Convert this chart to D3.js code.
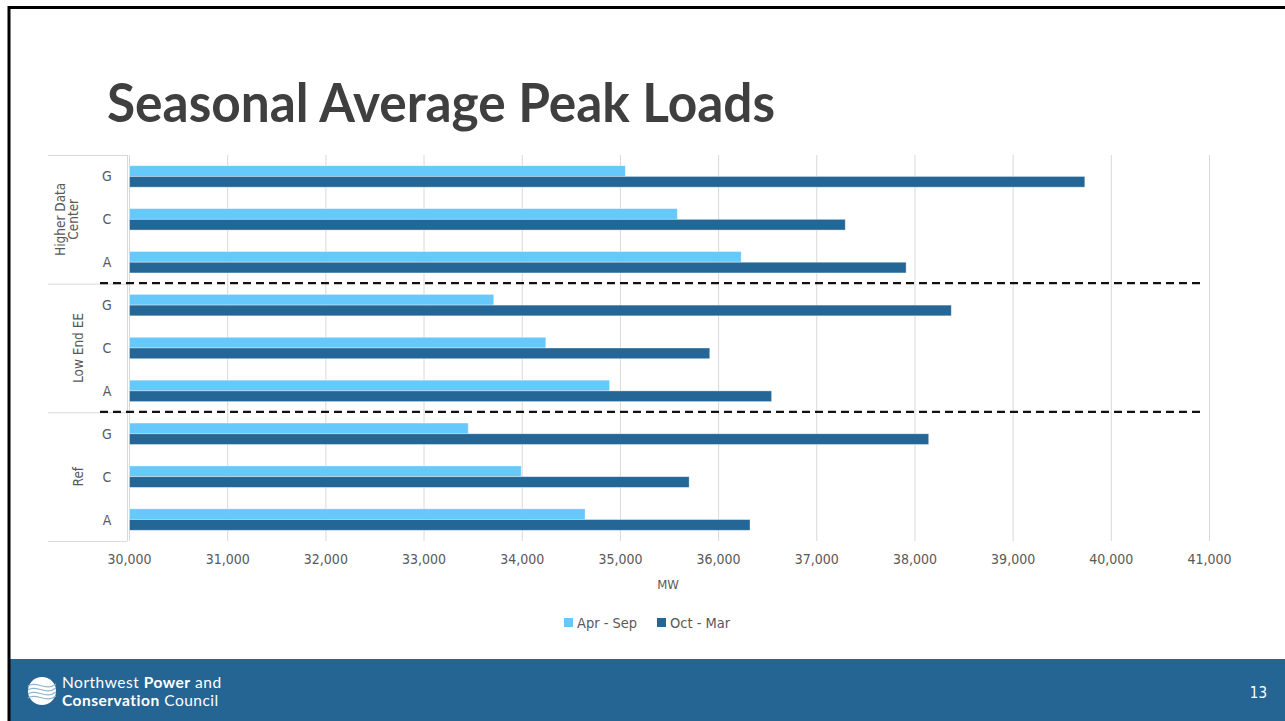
<!DOCTYPE html>
<html>
<head>
<meta charset="utf-8">
<script src="https://cdn.jsdelivr.net/npm/d3@7"></script>
<style>
  body { margin: 0; background: #fff; }
  svg { display: block; }
  .tick text { font-family: "DejaVu Sans Condensed", "DejaVu Sans", sans-serif; font-size: 14px; fill: #595959; }
</style>
</head>
<body>
<div id="chart"></div>
<script>
var groups = ["Higher Data Center", "Low End EE", "Ref"];
var cases = ["G", "C", "A"];
var seriesNames = ["Apr - Sep", "Oct - Mar"];
// one value per row, in order: group by group, G / C / A
var aprSep = [35050, 35580, 36230, 33710, 34240, 34890, 33450, 33990, 34640];
var octMar = [39730, 37290, 37910, 38370, 35910, 36540, 38140, 35700, 36320];
var xTicks = [30000, 31000, 32000, 33000, 34000, 35000, 36000, 37000, 38000, 39000, 40000, 41000];

var W = 1285, H = 721;
var colors = {"Apr - Sep": "#66c9fb", "Oct - Mar": "#246797"};
var textColor = "#595959";
var labelFont = "'DejaVu Sans Condensed', 'DejaVu Sans', sans-serif";

var rows = [];
groups.forEach(function(g, gi) {
  cases.forEach(function(c, ci) {
    var i = gi * cases.length + ci;
    rows.push({key: g + "|" + c, group: g, cas: c, "Apr - Sep": aprSep[i], "Oct - Mar": octMar[i]});
  });
});

var svg = d3.select("#chart").append("svg")
  .attr("width", W)
  .attr("height", H);

svg.append("rect").attr("x", 0).attr("y", 0).attr("width", W).attr("height", H).attr("fill", "#fff");

// title
svg.append("text")
  .attr("x", 107)
  .attr("y", 122)
  .attr("textLength", 668)
  .attr("lengthAdjust", "spacingAndGlyphs")
  .style("font-family", "Lato, sans-serif")
  .style("font-weight", "700")
  .style("font-size", "54px")
  .style("fill", "#3f3f3f")
  .text("Seasonal Average Peak Loads");

var plot = {left: 129, right: 1209, top: 155, bottom: 541};

var x = d3.scaleLinear().domain([30000, 41000]).range([plot.left, plot.right]);
var yGroup = d3.scaleBand().domain(groups).range([plot.top, plot.bottom]);
var yRow = d3.scaleBand().domain(rows.map(function(d) { return d.key; })).range([plot.top, plot.bottom]);
var ySeries = d3.scaleBand().domain(seriesNames).range([0, yRow.bandwidth()]).paddingInner(0).paddingOuter(1);

// gridlines
svg.append("g")
  .selectAll("line")
  .data(xTicks)
  .enter()
  .append("line")
  .attr("x1", function(d) { return x(d) + 0.5; })
  .attr("x2", function(d) { return x(d) + 0.5; })
  .attr("y1", plot.top)
  .attr("y2", plot.bottom)
  .attr("stroke", "#d9d9d9")
  .attr("stroke-width", 1);

// x axis labels
var xAxis = d3.axisBottom(x)
  .tickValues(xTicks)
  .tickSize(0)
  .tickPadding(0)
  .tickFormat(d3.format(","));

var gx = svg.append("g")
  .attr("transform", "translate(0," + (plot.bottom + 10) + ")")
  .call(xAxis);
gx.select(".domain").remove();
gx.selectAll(".tick text").attr("dy", "0.9em");

svg.append("text")
  .attr("x", 668)
  .attr("y", 589)
  .attr("text-anchor", "middle")
  .style("font-family", labelFont)
  .style("font-size", "13px")
  .style("fill", textColor)
  .text("MW");

// category axis boxes
var axisG = svg.append("g");
axisG.append("line")
  .attr("x1", plot.left - 1.5).attr("x2", plot.left - 1.5)
  .attr("y1", plot.top).attr("y2", plot.bottom)
  .attr("stroke", "#d9d9d9");
axisG.selectAll(".sep")
  .data(groups.concat(["end"]))
  .enter()
  .append("line")
  .attr("x1", 48)
  .attr("x2", plot.left - 1.5)
  .attr("y1", function(d) { return d === "end" ? plot.bottom + 0.5 : yGroup(d) + 0.5; })
  .attr("y2", function(d) { return d === "end" ? plot.bottom + 0.5 : yGroup(d) + 0.5; })
  .attr("stroke", "#d9d9d9");

axisG.selectAll(".case")
  .data(rows)
  .enter()
  .append("text")
  .attr("x", 107)
  .attr("y", function(d) { return yRow(d.key) + yRow.bandwidth() / 2; })
  .attr("dy", "0.36em")
  .attr("text-anchor", "middle")
  .style("font-family", labelFont)
  .style("font-size", "14px")
  .style("fill", textColor)
  .text(function(d) { return d.cas; });

var groupLines = {
  "Higher Data Center": ["Higher Data", "Center"],
  "Low End EE": ["Low End EE"],
  "Ref": ["Ref"]
};
groups.forEach(function(g) {
  var cy = yGroup(g) + yGroup.bandwidth() / 2;
  var lines = groupLines[g];
  var lastBase = lines.length > 1 ? 78 : 83;
  var t = axisG.append("text")
    .attr("transform", "translate(" + lastBase + "," + cy + ") rotate(-90)")
    .attr("text-anchor", "middle")
    .style("font-family", labelFont)
    .style("font-size", "13.5px")
    .style("fill", textColor);
  lines.forEach(function(l, i) {
    t.append("tspan")
      .attr("x", 0)
      .attr("dy", i === 0 ? (-(lines.length - 1) * 13) + "px" : "13px")
      .text(l);
  });
});

// bars
var rowG = svg.append("g")
  .selectAll("g")
  .data(rows)
  .enter()
  .append("g")
  .attr("transform", function(d) { return "translate(0," + yRow(d.key) + ")"; });

rowG.selectAll("rect")
  .data(function(d) { return seriesNames.map(function(s) { return {s: s, v: d[s]}; }); })
  .enter()
  .append("rect")
  .attr("x", x(30000) + 0.5)
  .attr("y", function(d) { return ySeries(d.s); })
  .attr("width", function(d) { return x(d.v) - x(30000); })
  .attr("height", ySeries.bandwidth())
  .attr("fill", function(d) { return colors[d.s]; })
  .attr("stroke", "#ffffff")
  .attr("stroke-opacity", 0.45)
  .attr("stroke-width", 0.8);

// dashed group dividers
svg.append("g")
  .selectAll("line")
  .data(groups.slice(1))
  .enter()
  .append("line")
  .attr("x1", 100)
  .attr("x2", 1200)
  .attr("y1", function(d) { return yGroup(d) - 0.5; })
  .attr("y2", function(d) { return yGroup(d) - 0.5; })
  .attr("stroke", "#111")
  .attr("stroke-width", 2.2)
  .attr("stroke-dasharray", "8,5");

// legend
var legend = svg.append("g").attr("transform", "translate(564,617)");
var legendX = [0, 93];
seriesNames.forEach(function(s, i) {
  var item = legend.append("g").attr("transform", "translate(" + legendX[i] + ",0)");
  item.append("rect").attr("width", 9).attr("height", 9).attr("y", 1).attr("fill", colors[s]);
  item.append("text")
    .attr("x", 13)
    .attr("y", 11)
    .style("font-family", labelFont)
    .style("font-size", "14.5px")
    .style("fill", textColor)
    .text(s);
});

// footer
svg.append("rect")
  .attr("x", 10)
  .attr("y", 659)
  .attr("width", W - 10)
  .attr("height", H - 659)
  .attr("fill", "#256594");

var logo = svg.append("g").attr("transform", "translate(42,691)");
logo.append("circle").attr("r", 14).attr("fill", "#fff");
[-3, 1, 5, 9].forEach(function(o) {
  logo.append("path")
    .attr("d", "M-14," + (o - 2) + " C-6," + (o - 8) + " 4," + (o + 4) + " 14," + (o - 4))
    .attr("fill", "none")
    .attr("stroke", "#8fb3cf")
    .attr("stroke-width", 1.1);
});

var ft = svg.append("g")
  .style("font-family", "Lato, sans-serif")
  .style("font-size", "15.5px")
  .style("letter-spacing", "0.5px")
  .style("fill", "#fff");
var l1 = ft.append("text").attr("x", 62).attr("y", 688);
l1.append("tspan").text("Northwest ");
l1.append("tspan").style("font-weight", "700").text("Power");
l1.append("tspan").text(" and");
var l2 = ft.append("text").attr("x", 62).attr("y", 706);
l2.append("tspan").style("font-weight", "700").text("Conservation");
l2.append("tspan").text(" Council");

svg.append("text")
  .attr("x", 1267)
  .attr("y", 698)
  .attr("text-anchor", "end")
  .style("font-family", labelFont)
  .style("font-size", "15px")
  .style("fill", "#fff")
  .text("13");

// black frame edges
svg.append("path")
  .attr("d", "M9,721 L9,7.5 L1290,7.5")
  .attr("fill", "none")
  .attr("stroke", "#000")
  .attr("stroke-width", 3);
</script>
</body>
</html>
